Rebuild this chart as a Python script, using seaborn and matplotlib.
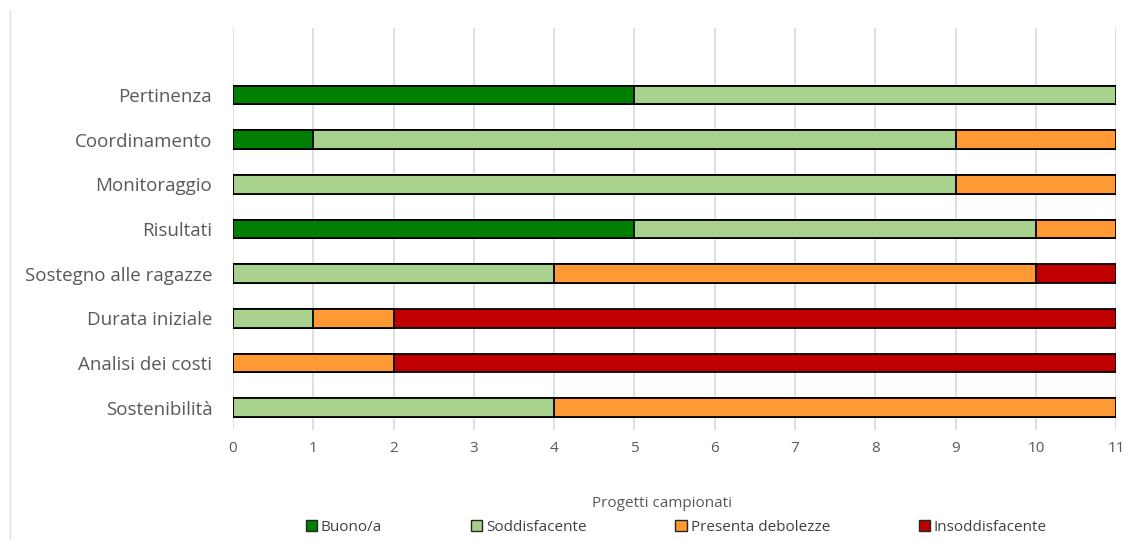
import numpy as np
import pandas as pd
import matplotlib
matplotlib.use("Agg")
import matplotlib.pyplot as plt
from matplotlib.patches import Patch
from matplotlib.lines import Line2D
import seaborn as sns

categories = ["Pertinenza", "Coordinamento", "Monitoraggio", "Risultati",
              "Sostegno alle ragazze", "Durata iniziale", "Analisi dei costi",
              "Sostenibilità"]
buono = [5, 1, 0, 5, 0, 0, 0, 0]
soddisfacente = [6, 8, 9, 5, 4, 1, 0, 4]
debolezze = [0, 2, 2, 1, 6, 1, 2, 7]
insoddisfacente = [0, 0, 0, 0, 1, 9, 9, 0]

series_names = ["Buono/a", "Soddisfacente", "Presenta debolezze", "Insoddisfacente"]
series_colors = ["#007f00", "#a9d18e", "#ff9933", "#c00000"]
xticks = list(range(0, 12))

sns.set_theme(style="white")
plt.rcParams["font.family"] = ["Open Sans", "DejaVu Sans"]

fig = plt.figure(figsize=(11.29, 5.40), dpi=100)
ax = fig.add_axes([0.2064, 0.2037, 0.7822, 0.7444])

values = [buono, soddisfacente, debolezze, insoddisfacente]
cum = np.cumsum(np.array(values, dtype=float), axis=0)

# Stacked bars: draw cumulative totals from the outermost segment inwards
for i in range(len(series_names) - 1, -1, -1):
    df = pd.DataFrame({"cat": categories, "val": cum[i]})
    sns.barplot(data=df, y="cat", x="val", orient="h", ax=ax,
                color=series_colors[i], saturation=1, width=0.42,
                edgecolor="black", linewidth=1.3, zorder=3)

ax.set_xlim(0, 11)
ax.set_ylim(7.5, -1.5)
ax.set_xticks(xticks)
ax.set_xticklabels([str(t) for t in xticks])
ax.grid(axis="x", color="#d9d9d9", linewidth=1.2, zorder=0)
ax.grid(axis="y", visible=False)
for s in ax.spines.values():
    s.set_visible(False)
ax.tick_params(axis="both", length=0, colors="#595959")
ax.tick_params(axis="y", labelsize=13.5, pad=15)
ax.tick_params(axis="x", labelsize=11, pad=8)
ax.set_ylabel("")
ax.set_xlabel("Progetti campionati", fontsize=11, color="#595959")
ax.xaxis.set_label_coords(0.486, -0.165)

handles = [Patch(facecolor=c, edgecolor="#262626", linewidth=1.0) for c in series_colors]
fig.legend(handles, series_names, loc="center", bbox_to_anchor=(0.599, 0.024),
           ncol=4, frameon=False, fontsize=11, labelcolor="#404040",
           handlelength=0.75, handleheight=0.75, handletextpad=0.25,
           columnspacing=5.8)

# faint frame line on the left edge
fig.add_artist(Line2D([10 / 1129, 10 / 1129], [0, 1 - 10 / 540],
                      transform=fig.transFigure, color="#e0e0e0", linewidth=1))

fig.savefig("out.png", dpi=100, facecolor="white")
